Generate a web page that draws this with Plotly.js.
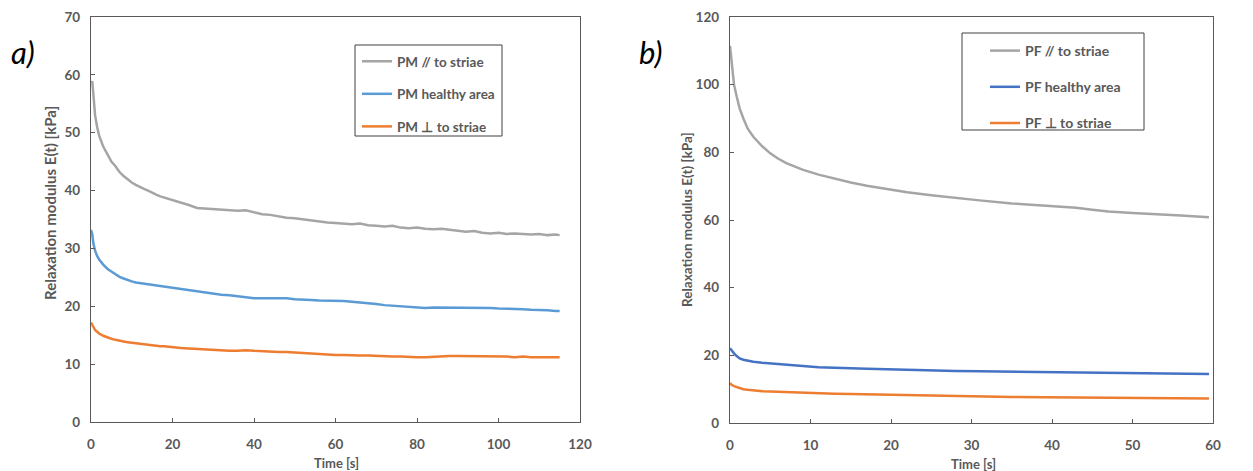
<!DOCTYPE html>
<html>
<head>
<meta charset="utf-8">
<script src="https://cdn.plot.ly/plotly-3.0.1.min.js"></script>
<style>html,body{margin:0;padding:0;background:#fff;}#chart{width:1253px;height:471px;}</style>
</head>
<body>
<div id="chart"></div>
<script>
// ---- Panel a) PM ----
const timeA = [0,0.3,0.6,1,1.5,2,3,4,5,6,7,8,9,10,11,12,13,14,15,16,17,18,19,20,22,24,26,28,30,32,34,36,38,40,42,44,46,48,50,52,54,56,58,60,62,64,66,68,70,72,74,76,78,80,82,84,86,88,90,92,94,96,98,100,102,104,106,108,110,112,114,115];
const pmParallel = [58.5,58.9,56.5,53,51,49.5,47.6,46.2,45.0,44.2,43.2,42.5,41.9,41.4,41.0,40.6,40.3,40.0,39.6,39.3,39.0,38.8,38.5,38.3,37.9,37.5,37.0,36.9,36.9,36.7,36.6,36.5,36.6,36.3,35.9,35.8,35.5,35.3,35.2,35.0,34.9,34.6,34.5,34.4,34.3,34.2,34.3,34.0,33.9,33.8,33.9,33.6,33.5,33.6,33.4,33.3,33.4,33.2,33.0,32.9,33.0,32.7,32.6,32.7,32.5,32.6,32.5,32.4,32.5,32.3,32.4,32.3];
const pmHealthy = [33.2,32.5,30.8,29.6,28.7,28.1,27.2,26.5,26.0,25.5,25.1,24.8,24.5,24.3,24.1,24.0,23.8,23.7,23.6,23.6,23.4,23.3,23.2,23.2,23.0,22.8,22.6,22.4,22.2,22.0,21.9,21.7,21.5,21.4,21.4,21.4,21.3,21.4,21.2,21.2,21.1,21.0,21.0,20.9,20.9,20.8,20.7,20.6,20.4,20.2,20.1,19.9,19.8,19.8,19.7,19.8,19.8,19.7,19.8,19.8,19.7,19.8,19.7,19.6,19.6,19.5,19.5,19.4,19.4,19.3,19.2,19.2];
const pmPerp = [17.2,16.8,16.2,15.9,15.6,15.3,14.9,14.6,14.4,14.2,14.0,13.9,13.8,13.7,13.6,13.5,13.4,13.3,13.3,13.2,13.1,13.1,13.0,12.9,12.8,12.7,12.6,12.5,12.4,12.4,12.3,12.3,12.4,12.3,12.2,12.2,12.1,12.1,12.0,11.9,11.8,11.8,11.7,11.6,11.6,11.5,11.5,11.5,11.4,11.4,11.3,11.3,11.2,11.2,11.2,11.3,11.3,11.4,11.4,11.4,11.3,11.3,11.3,11.3,11.3,11.2,11.3,11.2,11.2,11.2,11.2,11.2];

// ---- Panel b) PF ----
const timeB = [0,0.2,0.5,0.83,1.2,1.66,2.2,2.9,4,5,6,7,9,11,13,15,17,19.5,22,25,28,31,35,39,43,45,47,50,53,56,59.5];
const pfParallel = [111.5,106,100,96.5,93,90,87,84.6,81.8,79.7,78.1,76.8,74.9,73.4,72.2,71.1,70.1,69.1,68.2,67.3,66.5,65.8,64.9,64.2,63.6,63.0,62.5,62.1,61.8,61.3,60.8];
const pfHealthy = [22.1,21.4,20.6,19.8,19.1,18.7,18.4,18.1,17.8,17.6,17.3,17.1,16.8,16.5,16.3,16.1,16.0,15.9,15.7,15.6,15.4,15.3,15.2,15.1,15.0,14.9,14.9,14.7,14.6,14.6,14.5];
const pfPerp = [11.8,11.3,10.9,10.6,10.2,10.0,9.8,9.6,9.4,9.3,9.2,9.1,8.95,8.8,8.65,8.55,8.45,8.3,8.15,8.0,7.9,7.8,7.7,7.6,7.5,7.45,7.4,7.35,7.3,7.28,7.25];

const namesA = ["PM // to striae", "PM healthy area", "PM \u22A5 to striae"];
const namesB = ["PF // to striae", "PF healthy area", "PF \u22A5 to striae"];
const ticksAx = [0,20,40,60,80,100,120];
const ticksAy = [0,10,20,30,40,50,60,70];
const ticksBx = [0,10,20,30,40,50,60];
const ticksBy = [0,20,40,60,80,100,120];

const GREY = "#A5A5A5", BLUE_A = "#5B9BD5", BLUE_B = "#4472C4", ORANGE = "#ED7D31";
const TXT = "#595959", AX = "#595959";
const FONT = "Lato, 'Open Sans', sans-serif";

function tr(x, y, name, color, xa, ya, leg, grp) {
  return {x: x, y: y, name: name, type: "scatter", mode: "lines",
    line: {color: color, width: 2.5}, xaxis: xa, yaxis: ya, legend: leg, legendgroup: grp};
}

const data = [
  tr(timeA, pmParallel, namesA[0], GREY, "x", "y", "legend", "a1"),
  tr(timeA, pmHealthy, namesA[1], BLUE_A, "x", "y", "legend", "a2"),
  tr(timeA, pmPerp, namesA[2], ORANGE, "x", "y", "legend", "a3"),
  tr(timeB, pfParallel, namesB[0], GREY, "x2", "y2", "legend2", "b1"),
  tr(timeB, pfHealthy, namesB[1], BLUE_B, "x2", "y2", "legend2", "b2"),
  tr(timeB, pfPerp, namesB[2], ORANGE, "x2", "y2", "legend2", "b3")
];

const tickFont = {family: FONT, size: 13.5, color: TXT, weight: 700};
function xaxis(dom, range, tv, anchor) {
  return {domain: dom, range: range, tickvals: tv, ticktext: tv.map(String), anchor: anchor,
    showline: true, linecolor: AX, linewidth: 1.2, mirror: true, ticks: "inside", ticklen: 4,
    tickcolor: AX, showgrid: false, zeroline: false, tickfont: tickFont, ticklabelstandoff: 10, fixedrange: true};
}
function yaxis(dom, range, tv, anchor) {
  return {domain: dom, range: range, tickvals: tv, ticktext: tv.map(String), anchor: anchor,
    showline: true, linecolor: AX, linewidth: 1.2, mirror: true, ticks: "inside", ticklen: 4,
    tickcolor: AX, showgrid: false, zeroline: false, tickfont: tickFont, ticklabelstandoff: 7, fixedrange: true};
}
const W = 1253, H = 471;
const px = v => v / W, py = v => 1 - v / H;

const layout = {
  width: W, height: H, margin: {l: 0, r: 0, t: 0, b: 0},
  paper_bgcolor: "#fff", plot_bgcolor: "#fff", showlegend: true,
  font: {family: FONT, color: TXT},
  xaxis: xaxis([px(91), px(580)], [0, 120], ticksAx, "y"),
  yaxis: yaxis([py(422), py(17)], [0, 70], ticksAy, "x"),
  xaxis2: xaxis([px(730), px(1213)], [0, 60], ticksBx, "y2"),
  yaxis2: yaxis([py(423), py(17)], [0, 120], ticksBy, "x2"),
  legend: {x: px(357), y: py(46), xanchor: "left", yanchor: "top", bgcolor: "rgba(0,0,0,0)",
    borderwidth: 0, font: {family: FONT, size: 13.5, color: TXT, weight: 700},
    tracegroupgap: 12, traceorder: "grouped", itemwidth: 30},
  legend2: {x: px(985), y: py(35), xanchor: "left", yanchor: "top", bgcolor: "rgba(0,0,0,0)",
    borderwidth: 0, font: {family: FONT, size: 14, color: TXT, weight: 700},
    tracegroupgap: 15, traceorder: "grouped", itemwidth: 30},
  shapes: [
    {type: "rect", xref: "paper", yref: "paper", x0: px(355), x1: px(502), y0: py(136), y1: py(45),
      line: {color: "#404040", width: 1}, fillcolor: "rgba(0,0,0,0)", layer: "below"},
    {type: "rect", xref: "paper", yref: "paper", x0: px(962), x1: px(1144), y0: py(130), y1: py(33),
      line: {color: "#404040", width: 1}, fillcolor: "rgba(0,0,0,0)", layer: "below"}
  ],
  annotations: [
    {text: "a)", xref: "paper", yref: "paper", x: px(9), y: py(52), xanchor: "left", yanchor: "middle",
      showarrow: false, font: {family: FONT, size: 31, color: "#000", style: "italic"}},
    {text: "b)", xref: "paper", yref: "paper", x: px(637), y: py(52), xanchor: "left", yanchor: "middle",
      showarrow: false, font: {family: FONT, size: 31, color: "#000", style: "italic"}},
    {text: "Relaxation modulus E(t) [kPa]", xref: "paper", yref: "paper", x: px(50), y: py(203),
      xanchor: "center", yanchor: "middle", textangle: -90, showarrow: false,
      font: {family: FONT, size: 15, color: TXT, weight: 700}},
    {text: "Relaxation modulus E(t) [kPa]", xref: "paper", yref: "paper", x: px(687), y: py(220),
      xanchor: "center", yanchor: "middle", textangle: -90, showarrow: false,
      font: {family: FONT, size: 13.5, color: TXT, weight: 700}},
    {text: "Time [s]", xref: "paper", yref: "paper", x: px(336), y: py(463),
      xanchor: "center", yanchor: "middle", showarrow: false,
      font: {family: FONT, size: 13, color: TXT, weight: 700}},
    {text: "Time [s]", xref: "paper", yref: "paper", x: px(973), y: py(464),
      xanchor: "center", yanchor: "middle", showarrow: false,
      font: {family: FONT, size: 13, color: TXT, weight: 700}}
  ]
};

Plotly.newPlot("chart", data, layout, {displayModeBar: false, staticPlot: true});
</script>
</body>
</html>
